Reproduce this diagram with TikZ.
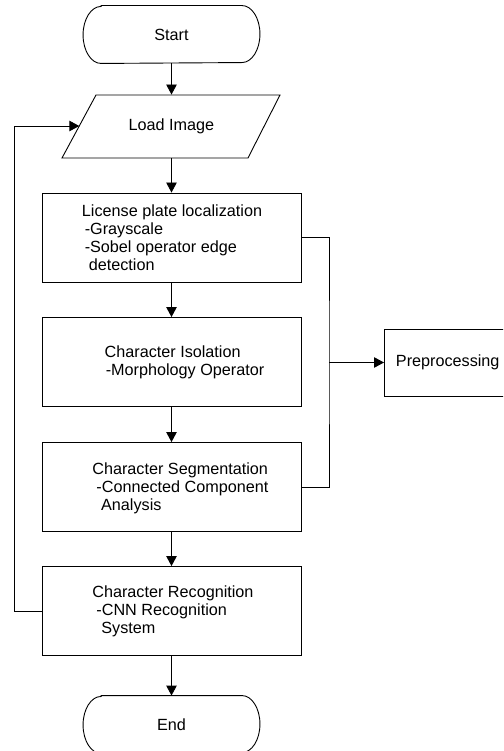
\documentclass[tikz,border=0pt]{standalone}
\usepackage{fontspec}
\setmainfont{Liberation Sans}
\usetikzlibrary{arrows.meta}
\begin{document}
\begin{tikzpicture}[x=1pt,y=-1pt, line width=0.9pt,
  font=\fontsize{16.2}{18}\selectfont,
  box/.style={draw, minimum width=259pt, minimum height=89pt, inner sep=0pt},
  term/.style={minimum width=176pt, minimum height=57pt, inner sep=0pt},
  txt/.style={anchor=north west, inner sep=0pt, align=left},
  arr/.style={-{Triangle[length=10pt,width=10.5pt]}}]
\useasboundingbox (0,0) rectangle (503,751);
\clip (0,0) rectangle (503,751);
% terminals
\node[term] (start) at (171.5,34.5) {Start};
\draw ([xshift=18pt]start.north west) -- ([xshift=-18pt]start.north east)
  arc[x radius=18pt, y radius=28.5pt, start angle=90, end angle=-90]
  -- ([xshift=18pt]start.south west)
  arc[x radius=18pt, y radius=28.5pt, start angle=270, end angle=90] -- cycle;
\node[term] (end) at (171.5,724.5) {End};
\draw ([xshift=18pt]end.north west) -- ([xshift=-18pt]end.north east)
  arc[x radius=18pt, y radius=28.5pt, start angle=90, end angle=-90]
  -- ([xshift=18pt]end.south west)
  arc[x radius=18pt, y radius=28.5pt, start angle=270, end angle=90] -- cycle;
% input parallelogram
\coordinate (pA) at (96,95);
\coordinate (pB) at (280,95);
\coordinate (pC) at (248,158);
\coordinate (pD) at (62,158);
\draw (pA) -- (pB) -- (pC) -- (pD) -- cycle;
\node[minimum width=150pt, minimum height=63pt, inner sep=0pt] (load) at (171.5,126.5) {Load Image};
% process boxes
\node[box] (b1) at (171.5,237.5) {};
\node[box] (b2) at (171.5,362) {};
\node[box] (b3) at (171.5,487) {};
\node[box] (b4) at (171.5,611) {};
\node[txt] (t1) at (81.5,203.7) {\rule{0pt}{12pt}License plate localization\\\hspace*{2.8pt}-Grayscale\\\hspace*{2.8pt}-Sobel operator edge\\\hspace*{6.9pt}detection};
\node[txt] (t2) at (104.2,344.7) {\rule{0pt}{12pt}Character Isolation\\\hspace*{1.1pt}-Morphology Operator};
\node[txt] (t3) at (91.9,462) {\rule{0pt}{12pt}Character Segmentation\\\hspace*{4.1pt}-Connected Component\\\hspace*{8.8pt}Analysis};
\node[txt] (t4) at (91.9,585.3) {\rule{0pt}{12pt}Character Recognition\\\hspace*{4.1pt}-CNN Recognition\\\hspace*{9pt}System};
% preprocessing
\node[draw, anchor=west, minimum width=136pt, minimum height=67pt, inner xsep=11.5pt, inner ysep=0pt, text width=113pt, align=left] (prep) at (384,362.5) {Preprocessing};
% connectors
\draw[arr] (start.south) -- (load.north);
\draw[arr] (load.south) -- (b1.north);
\draw[arr] (b1.south) -- (b2.north);
\draw[arr] (b2.south) -- (b3.north);
\draw[arr] (b3.south) -- (b4.north);
\draw[arr] (b4.south) -- (end.north);
\coordinate (bus) at (329,362.5);
\draw (b1.east) -| (bus) |- (b3.east);
\draw[arr] (bus) -- (prep.west);
\coordinate (fb) at (14,126);
\coordinate (loadin) at (79.3,126);
\draw[arr] (b4.west) -| (fb) -- (loadin);
\end{tikzpicture}
\end{document}
